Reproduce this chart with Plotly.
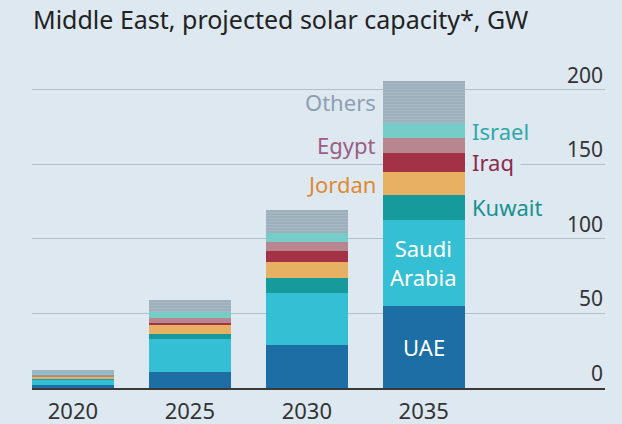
import plotly.graph_objects as go

# Projected solar capacity, GW, stacked by country
years = [2020, 2025, 2030, 2035]
uae = [2.0, 10.5, 28.9, 55.0]
saudi_arabia = [3.5, 22.5, 35.1, 58.0]
kuwait = [1.0, 3.0, 10.0, 16.5]
jordan = [1.0, 6.0, 10.8, 15.2]
iraq = [0.5, 1.7, 7.2, 13.3]
egypt = [1.0, 3.4, 6.0, 9.6]
israel = [1.0, 3.7, 6.0, 10.4]
others = [2.0, 8.2, 15.5, 28.0]

y_ticks = [0, 50, 100, 150, 200]

BG = "#dde8f0"
FONT = "Noto Sans"
TEXT = "#333333"

series = [
    ("UAE", uae, "#1c6ea4"),
    ("Saudi Arabia", saudi_arabia, "#35bfd4"),
    ("Kuwait", kuwait, "#179a9c"),
    ("Jordan", jordan, "#e8b062"),
    ("Iraq", iraq, "#a33246"),
    ("Egypt", egypt, "#b7868f"),
    ("Israel", israel, "#76cdc8"),
    ("Others", others, "#9fb0bd"),
]

fig = go.Figure()
for name, vals, col in series:
    marker = dict(color=col, line=dict(width=0))
    if name == "Others":
        marker["pattern"] = dict(shape="-", fgcolor="#aab9c5", size=3,
                                 solidity=0.25, fillmode="replace", bgcolor=col)
    fig.add_trace(go.Bar(x=years, y=vals, name=name, marker=marker, width=3.5))

# segment midpoints in the final year, used to place labels
last = len(years) - 1
mid = {}
running = 0.0
for name, vals, col in series:
    mid[name] = running + vals[last] / 2
    running += vals[last]

bar_left = years[last] - 1.75
bar_right = years[last] + 1.75
LBL = 22

inside = [("UAE", "UAE"), ("Saudi Arabia", "Saudi<br>Arabia")]
for key, txt in inside:
    fig.add_annotation(x=years[last], y=mid[key], text=txt, showarrow=False,
                       font=dict(family=FONT, size=LBL, color="white"),
                       xanchor="center", yanchor="middle")

left_labels = [("Jordan", "#e08a30"), ("Egypt", "#9b5e80"), ("Others", "#8da0b0")]
for key, col in left_labels:
    fig.add_annotation(x=bar_left, y=mid[key], text=key, showarrow=False,
                       font=dict(family=FONT, size=LBL, color=col),
                       xanchor="right", yanchor="middle", xshift=-5)

right_labels = [("Kuwait", "#17918f"), ("Iraq", "#8b2a4a"), ("Israel", "#2ea8a8")]
for key, col in right_labels:
    extra = {}
    if key == "Iraq":
        extra = dict(bgcolor=BG, borderpad=6)
    fig.add_annotation(x=bar_right, y=mid[key], text=key, showarrow=False,
                       font=dict(family=FONT, size=LBL, color=col),
                       xanchor="left", yanchor="middle", xshift=0 if key == "Iraq" else 5,
                       **extra)

# y-axis values sit above their gridlines at the right edge
for v in y_ticks:
    fig.add_annotation(x=1, xref="paper", y=v, yref="y", text=str(v),
                       showarrow=False, xanchor="right", yanchor="bottom",
                       yshift=-1, font=dict(family=FONT, size=21, color=TEXT))

fig.update_layout(
    width=622, height=424,
    margin=dict(l=32, r=17, t=70, b=36),
    paper_bgcolor=BG, plot_bgcolor=BG,
    barmode="stack",
    showlegend=False,
    font=dict(family=FONT, color=TEXT),
    title=dict(text="Middle East, projected solar capacity*, GW",
               x=0.053, xref="container", xanchor="left", y=0.953, yanchor="middle",
               font=dict(family=FONT, size=25, color="#222222")),
)

fig.update_xaxes(
    range=[2018.25, 2042.75],
    tickvals=years, ticktext=[str(y) for y in years],
    tickfont=dict(family=FONT, size=22, color=TEXT),
    showgrid=False, zeroline=False, automargin=False,
    showline=True, linecolor="#3a3a3a", linewidth=1.5,
    ticks="outside", ticklen=3, tickcolor=BG,
)

fig.update_yaxes(
    range=[0, 213.4],
    tickvals=y_ticks, showticklabels=False,
    showgrid=True, gridcolor="#b3bfc8", gridwidth=1,
    zeroline=False, showline=False, ticks="", automargin=False,
)

fig.write_html("out.html")
